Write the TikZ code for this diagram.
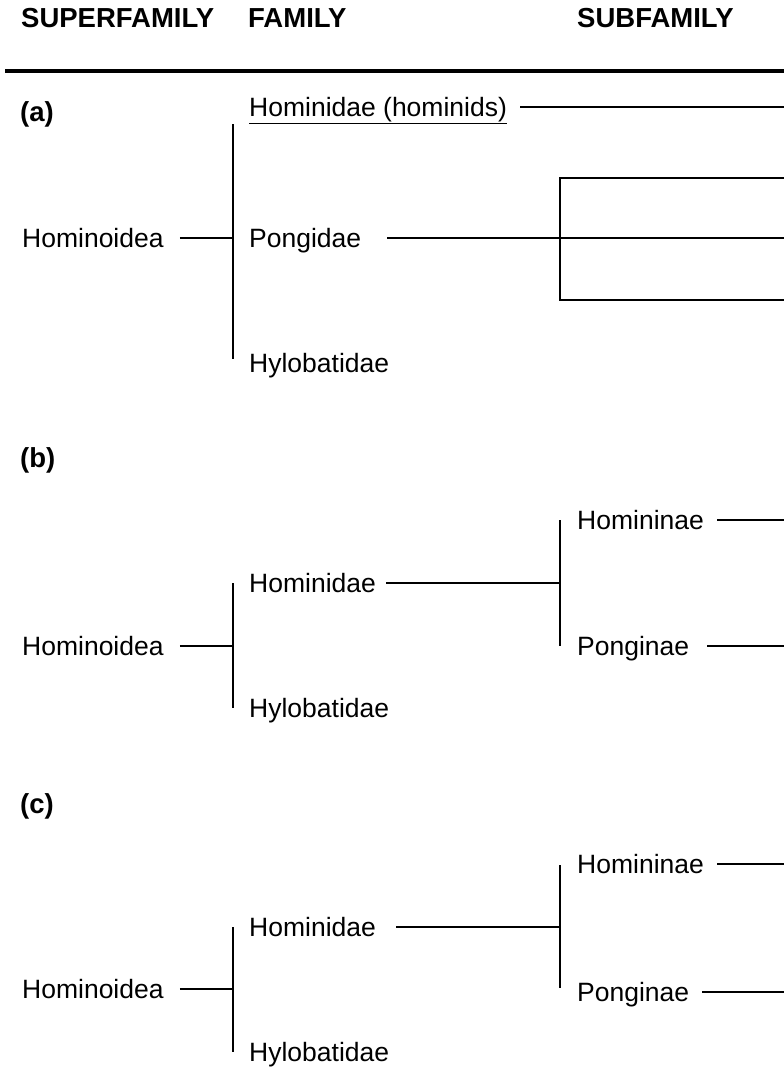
\documentclass[tikz,border=0pt]{standalone}
\usepackage{fontspec}
\setmainfont{Liberation Sans}
\usetikzlibrary{calc}

\begin{document}
\begin{tikzpicture}[
  x=1pt,y=-1pt,
  font=\fontsize{26.5}{30}\selectfont,
  taxon/.style={anchor=base west, inner sep=0pt, text height=18pt, text depth=0pt},
  heading/.style={taxon, font=\bfseries\fontsize{27.5}{31}\selectfont},
  branch/.style={line width=2.7pt, line join=miter},
  headrule/.style={line width=3.5pt}
]

% Canvas
\fill[white] (0,0) rectangle (784,1069);
\useasboundingbox (0,0) rectangle (784,1069);
\coordinate (rim) at (784,0);

% Column headings
\node[heading] (hsuper) at (21,27) {SUPERFAMILY};
\node[heading] (hfamily) at (248,27) {FAMILY};
\node[heading] (hsub) at (577,27) {SUBFAMILY};
\coordinate (rulel) at (5,71);
\draw[headrule] (rulel) -- (rulel -| rim);

% Panel (a)
\node[heading] (lbla) at (20,121) {(a)};
\node[taxon] (supa) at (22,247) {Hominoidea};
\node[taxon] (hmda) at (249,116) {\underline{Hominidae (hominids)}};
\node[taxon] (pnga) at (249,247) {Pongidae};
\node[taxon] (hyla) at (249,372) {Hylobatidae};
\coordinate (forkatop) at (233,124);
\coordinate (forkabot) at (233,359);
\coordinate (boxtop) at (560,178);
\coordinate (boxbot) at (560,300);

\draw[branch] ([xshift=16pt]supa.east) -- (supa.east -| forkatop);
\draw[branch] (forkatop) -- (forkabot);
\draw[branch] ([xshift=13pt]hmda.east) -- (hmda.east -| rim);
\draw[branch] ([xshift=26pt]pnga.east) -- (pnga.east -| rim);
\draw[branch] (boxtop -| rim) -- (boxtop) -- (boxbot) -- (boxbot -| rim);

% Panel (b)
\node[heading] (lblb) at (20,467) {(b)};
\node[taxon] (supb) at (22,655) {Hominoidea};
\node[taxon] (hmdb) at (249,592) {Hominidae};
\node[taxon] (hylb) at (249,717) {Hylobatidae};
\node[taxon] (hmnb) at (577,529) {Homininae};
\node[taxon] (pgnb) at (577,655) {Ponginae};
\coordinate (famb) at (233,0);
\coordinate (subb) at (560,0);

\draw[branch] ([xshift=16pt]supb.east) -- (supb.east -| famb);
\draw[branch] (hmdb.east -| famb) -- (hylb.east -| famb);
\draw[branch] ([xshift=10pt]hmdb.east) -- (hmdb.east -| subb);
\draw[branch] (hmnb.east -| subb) -- (pgnb.east -| subb);
\draw[branch] ([xshift=13pt]hmnb.east) -- (hmnb.east -| rim);
\draw[branch] ([xshift=18pt]pgnb.east) -- (pgnb.east -| rim);

% Panel (c)
\node[heading] (lblc) at (20,813) {(c)};
\node[taxon] (supc) at (22,998) {Hominoidea};
\node[taxon] (hmdc) at (249,936) {Hominidae};
\node[taxon] (hylc) at (249,1061) {Hylobatidae};
\node[taxon] (hmnc) at (577,873) {Homininae};
\node[taxon] (pgnc) at (577,1001) {Ponginae};
\coordinate (famc) at (233,0);
\coordinate (subctop) at (560,865);
\coordinate (subcbot) at (560,988);

\draw[branch] ([xshift=16pt]supc.east) -- (supc.east -| famc);
\draw[branch] (hmdc.east -| famc) -- (hylc.east -| famc);
\draw[branch] ([xshift=20pt]hmdc.east) -- (hmdc.east -| subctop);
\draw[branch] (subctop) -- (subcbot);
\draw[branch] ([xshift=13pt]hmnc.east) -- (hmnc.east -| rim);
\draw[branch] ([xshift=13pt]pgnc.east) -- (pgnc.east -| rim);

\end{tikzpicture}
\end{document}
